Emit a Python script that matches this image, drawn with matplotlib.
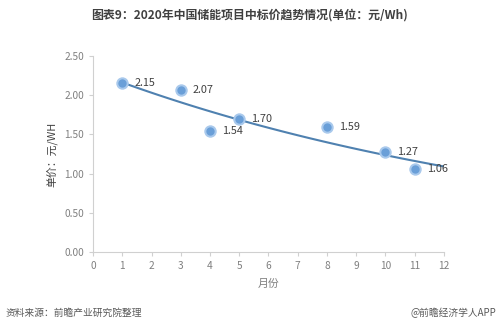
import numpy as np
import matplotlib.pyplot as plt

plt.rcParams['font.family'] = ['Noto Sans CJK SC', 'DejaVu Sans']
plt.rcParams['axes.unicode_minus'] = False

# 2020年储能项目中标价 (元/Wh)
months = [1, 3, 4, 5, 8, 10, 11]
prices = [2.15, 2.07, 1.54, 1.70, 1.59, 1.27, 1.06]
x_ticks = list(range(0, 13))
y_ticks = [0.00, 0.50, 1.00, 1.50, 2.00, 2.50]

fig = plt.figure(figsize=(5, 3.31), dpi=100)
ax = fig.add_axes([0.186, 0.239, 0.702, 0.592])

# 指数趋势线
coef = np.polyfit(months, np.log(prices), 1)
xt = np.linspace(1, 12, 100)
ax.plot(xt, np.exp(np.polyval(coef, xt)), color='#4f81b0', lw=1.5, zorder=2)

ax.scatter(months, prices, s=80, color='#a9c9ec', zorder=3, linewidths=0)
ax.scatter(months, prices, s=36, color='#6a9fd8', zorder=4, linewidths=0)

for m, p in zip(months, prices):
    ax.annotate(f'{p:.2f}', (m, p), xytext=(8.5, 0), textcoords='offset points',
                ha='left', va='center', fontsize=7.8, color='#404040', zorder=5)

ax.set_xlim(0, 12)
ax.set_ylim(0, 2.5)
ax.set_xticks(x_ticks)
ax.set_yticks(y_ticks)
ax.set_yticklabels([f'{v:.2f}' for v in y_ticks])
ax.tick_params(labelsize=7.3, colors='#d0d0d0', labelcolor='#7f7f7f', length=3, width=0.8)
for s in ['top', 'right']:
    ax.spines[s].set_visible(False)
for s in ['left', 'bottom']:
    ax.spines[s].set_color('#d0d0d0')
ax.set_ylabel('单价：元/WH', fontsize=7.8, color='#404040', labelpad=4)
ax.set_xlabel('月份', fontsize=7.8, color='#7f7f7f', labelpad=6)

fig.text(0.5, 0.955, '图表9：2020年中国储能项目中标价趋势情况(单位：元/Wh)',
         ha='center', va='center', fontsize=8.6, fontweight='bold', color='#404040')
fig.text(0.012, 0.055, '资料来源：前瞻产业研究院整理', ha='left', va='center',
         fontsize=7, color='#595959')
fig.text(0.992, 0.055, '@前瞻经济学人APP', ha='right', va='center',
         fontsize=7, color='#595959')

fig.savefig('out.png', dpi=100)
